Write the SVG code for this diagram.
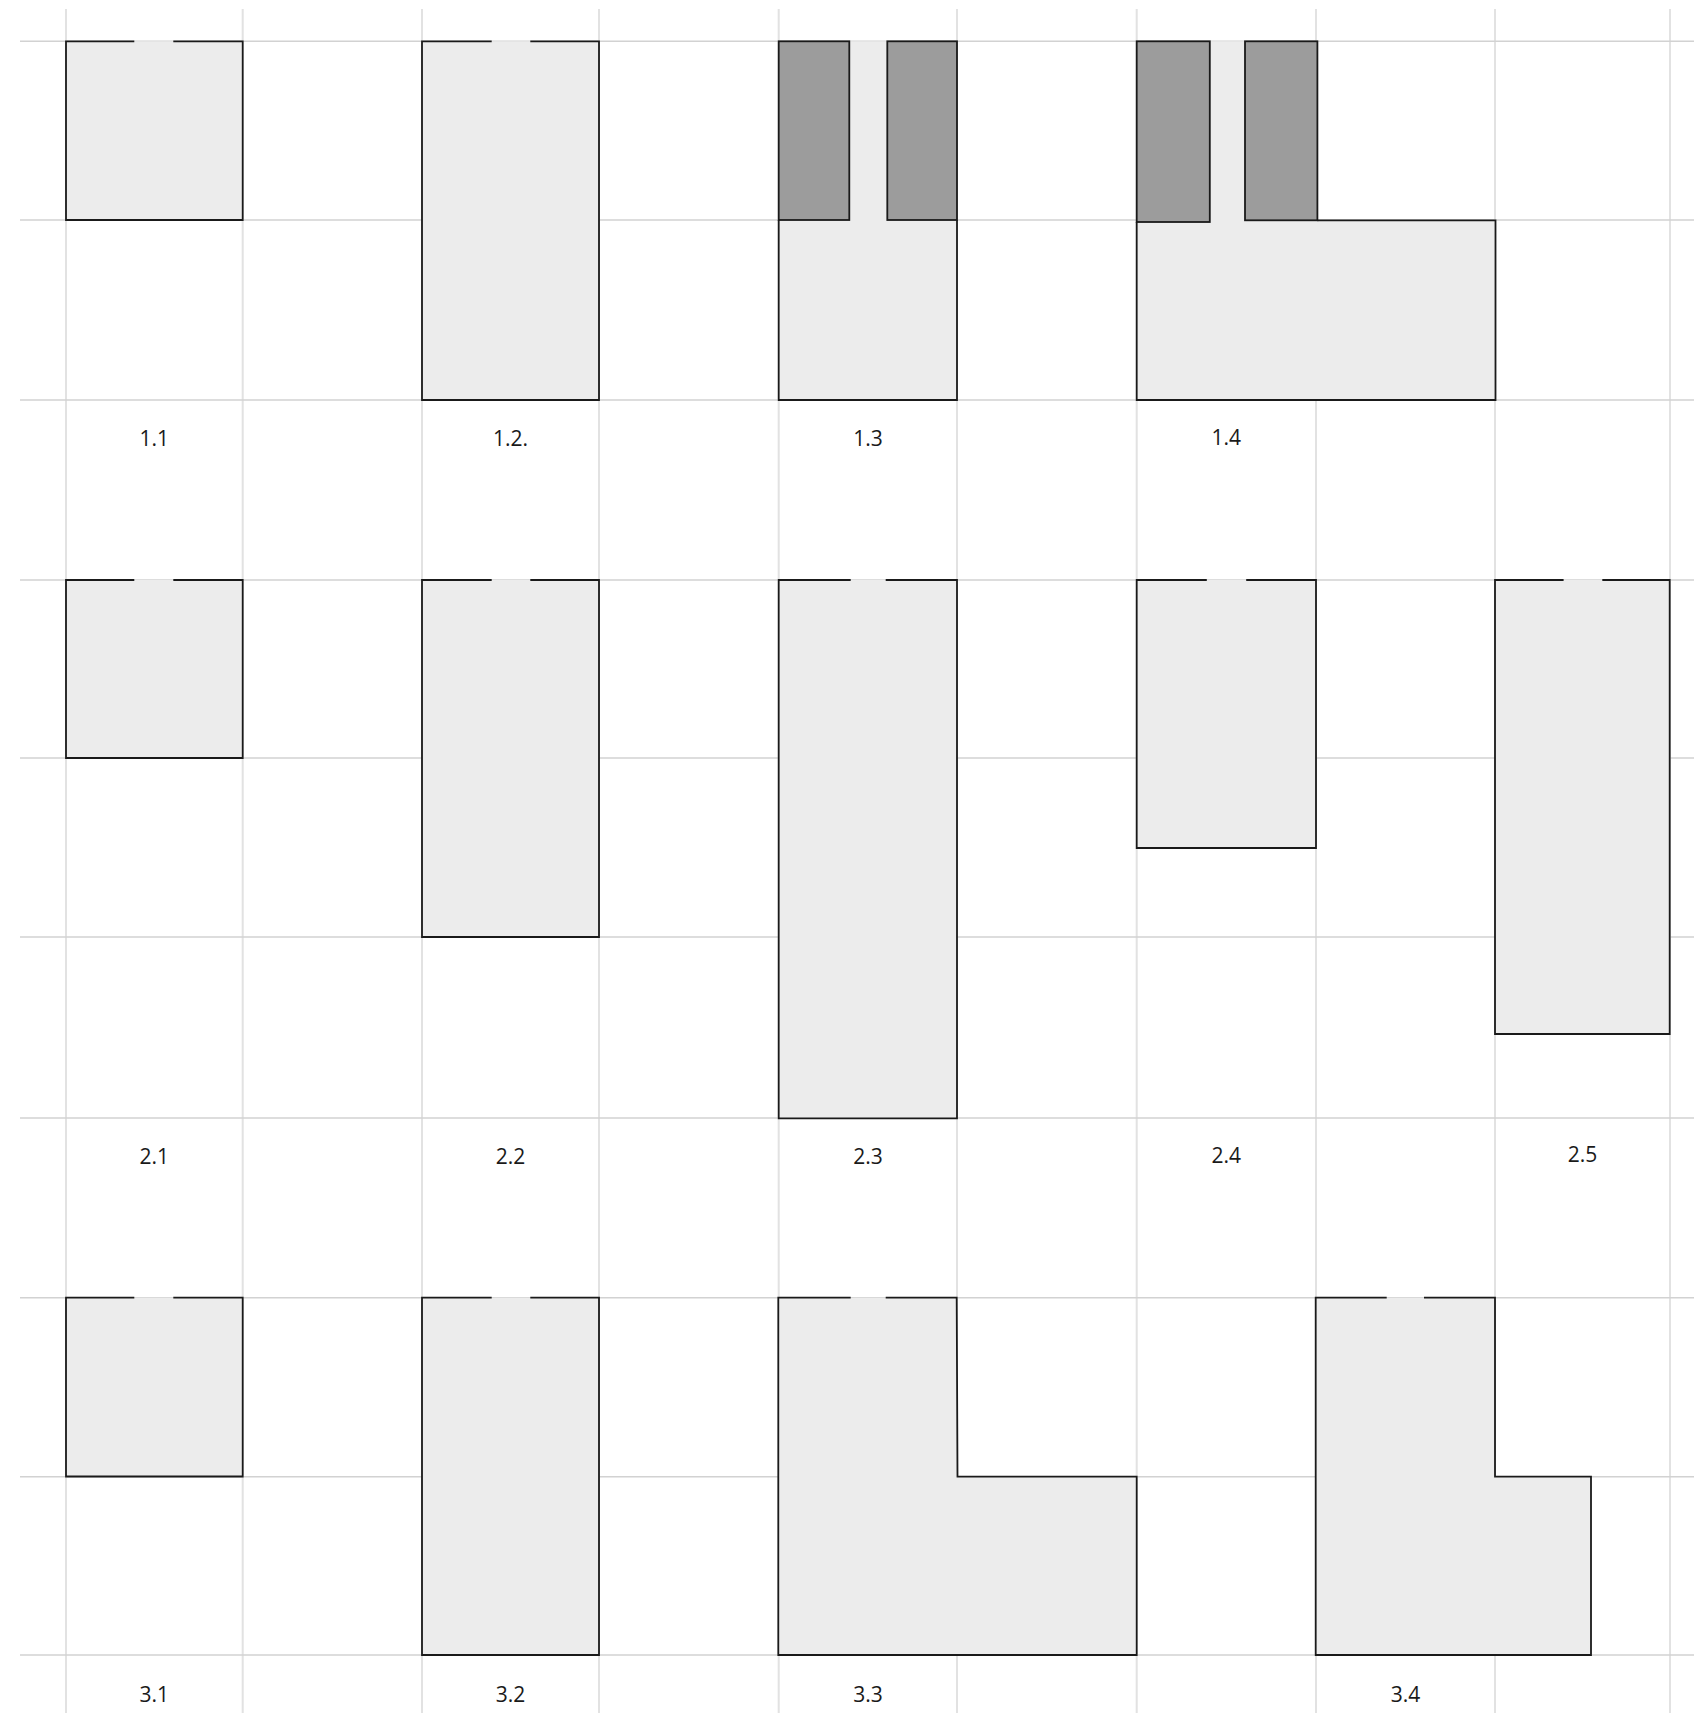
<svg xmlns="http://www.w3.org/2000/svg" width="1694" height="1713" viewBox="0 0 1694 1713">
<style>
.vg{stroke:#e2e2e2;stroke-width:2;fill:none}
.hg{stroke:#d2d2d2;stroke-width:1.6;fill:none}
.fill{fill:#ececec;stroke:none}
.ol{fill:none;stroke:#1a1a1a;stroke-width:1.8;stroke-linejoin:miter}
.dark{fill:#9c9c9c;stroke:#1a1a1a;stroke-width:1.8}
.lbl{font-family:"Open Sans","Noto Sans","Liberation Sans",sans-serif;font-size:21px;fill:#1a1a1a;text-anchor:middle}
</style>
<rect x="0" y="0" width="1694" height="1713" fill="#ffffff"/>
<g id="grid">
<path class="vg" d="M66 9V1713M242.7 9V1713M422 9V1713M599 9V1713M778.7 9V1713M957 9V1713M1136.7 9V1713M1316 9V1713M1495 9V1713M1670 9V1713"/>
<path class="hg" d="M20 41.3H1694M20 220H1694M20 400H1694M20 580H1694M20 758H1694M20 937H1694M20 1118H1694M20 1297.7H1694M20 1476.7H1694M20 1655H1694"/>
</g>
<g id="fig-1-1">
<rect class="fill" x="66" y="41.3" width="176.7" height="178.7"/>
<path class="ol" d="M134.3 41.3H66V220H242.7V41.3H173.3"/>
<text class="lbl" x="154.3" y="446">1.1</text>
</g>
<g id="fig-1-2">
<rect class="fill" x="422" y="41.3" width="177" height="358.7"/>
<path class="ol" d="M491.7 41.3H422V400H599V41.3H530.3"/>
<text class="lbl" x="510.5" y="446">1.2.</text>
</g>
<g id="fig-1-3">
<rect class="fill" x="778.7" y="41.3" width="178.3" height="358.7"/>
<path class="ol" d="M778.7 220V400H957V220"/>
<rect class="dark" x="778.7" y="41.3" width="70.6" height="178.7"/>
<rect class="dark" x="887.3" y="41.3" width="69.7" height="178.7"/>
<text class="lbl" x="867.9" y="446">1.3</text>
</g>
<g id="fig-1-4">
<path class="fill" d="M1136.7 41.3H1317.4V220.3H1495.5V400H1136.7Z"/>
<path class="ol" d="M1136.7 222V400H1495.5V220.3H1317.4"/>
<rect class="dark" x="1136.7" y="41.3" width="73.1" height="180.7"/>
<rect class="dark" x="1245" y="41.3" width="72.4" height="179"/>
<text class="lbl" x="1226.3" y="445">1.4</text>
</g>
<g id="fig-2-1">
<rect class="fill" x="66" y="580" width="176.7" height="178"/>
<path class="ol" d="M134.3 580H66V758H242.7V580H173.3"/>
<text class="lbl" x="154.3" y="1164">2.1</text>
</g>
<g id="fig-2-2">
<rect class="fill" x="422" y="580" width="177" height="357"/>
<path class="ol" d="M491.7 580H422V937H599V580H530.3"/>
<text class="lbl" x="510.5" y="1164">2.2</text>
</g>
<g id="fig-2-3">
<rect class="fill" x="778.7" y="580" width="178.3" height="538.3"/>
<path class="ol" d="M850.7 580H778.7V1118.3H957V580H885.7"/>
<text class="lbl" x="867.9" y="1164">2.3</text>
</g>
<g id="fig-2-4">
<rect class="fill" x="1136.7" y="580" width="179.3" height="268"/>
<path class="ol" d="M1206.8 580H1136.7V848H1316V580H1246.2"/>
<text class="lbl" x="1226.3" y="1162.5">2.4</text>
</g>
<g id="fig-2-5">
<rect class="fill" x="1495" y="580" width="174.7" height="454"/>
<path class="ol" d="M1563.6 580H1495V1034H1669.7V580H1602.3"/>
<text class="lbl" x="1582.5" y="1162">2.5</text>
</g>
<g id="fig-3-1">
<rect class="fill" x="66" y="1297.7" width="176.7" height="178.8"/>
<path class="ol" d="M134.3 1297.7H66V1476.5H242.7V1297.7H173.3"/>
<text class="lbl" x="154.3" y="1701.7">3.1</text>
</g>
<g id="fig-3-2">
<rect class="fill" x="422" y="1297.7" width="177" height="357.3"/>
<path class="ol" d="M491.7 1297.7H422V1655H599V1297.7H530.3"/>
<text class="lbl" x="510.5" y="1701.7">3.2</text>
</g>
<g id="fig-3-3">
<path class="fill" d="M778.3 1297.7H956.7V1476.7H1136.7V1655H778.3Z"/>
<path class="ol" d="M850.7 1297.7H778.3V1655H1136.7V1476.7H957.5L956.7 1297.7H885.7"/>
<text class="lbl" x="867.9" y="1701.7">3.3</text>
</g>
<g id="fig-3-4">
<path class="fill" d="M1315.7 1297.7H1495V1476.7H1591V1655H1315.7Z"/>
<path class="ol" d="M1386.7 1297.7H1315.7V1655H1591V1476.7H1495V1297.7H1424"/>
<text class="lbl" x="1405.5" y="1701.7">3.4</text>
</g>
</svg>
